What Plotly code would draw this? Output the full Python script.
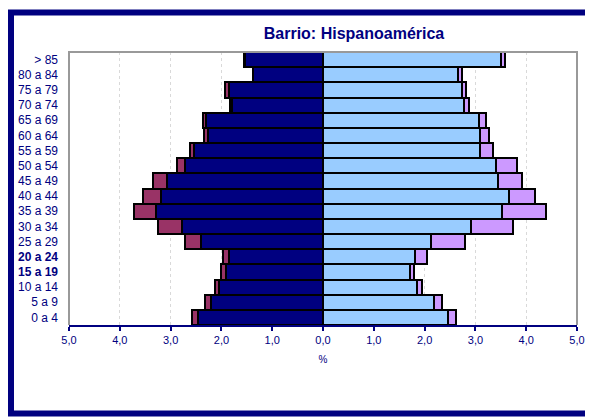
import plotly.graph_objects as go

# age groups, bottom to top
edades = ["0 a 4", "5 a 9", "10 a 14", "15 a 19", "20 a 24", "25 a 29", "30 a 34",
          "35 a 39", "40 a 44", "45 a 49", "50 a 54", "55 a 59", "60 a 64",
          "65 a 69", "70 a 74", "75 a 79", "80 a 84", "> 85"]

# men (% of population): nationals and foreigners
hombres_esp = [2.47, 2.20, 2.04, 1.90, 1.86, 2.40, 2.78, 3.29, 3.18, 3.07,
               2.71, 2.53, 2.26, 2.30, 1.79, 1.86, 1.37, 1.53]
hombres_ext = [0.11, 0.12, 0.08, 0.10, 0.10, 0.32, 0.47, 0.44, 0.36, 0.27,
               0.16, 0.09, 0.09, 0.07, 0.05, 0.06, 0.01, 0.02]

# women (% of population): nationals and foreigners
mujeres_esp = [2.47, 2.19, 1.86, 1.71, 1.82, 2.12, 2.91, 3.53, 3.66, 3.45,
               3.41, 3.10, 3.09, 3.07, 2.78, 2.74, 2.65, 3.51]
mujeres_ext = [0.14, 0.15, 0.09, 0.09, 0.23, 0.67, 0.83, 0.85, 0.52, 0.47,
               0.41, 0.25, 0.18, 0.13, 0.09, 0.08, 0.09, 0.08]

ticks = [-5, -4, -3, -2, -1, 0, 1, 2, 3, 4, 5]
tick_text = ["5,0", "4,0", "3,0", "2,0", "1,0", "0,0", "1,0", "2,0", "3,0", "4,0", "5,0"]

NAVY = "#000080"
FONT = "Liberation Sans, Arial, sans-serif"
borde = dict(color="black", width=2)

fig = go.Figure()
fig.add_trace(go.Bar(y=edades, x=[-v for v in hombres_esp], orientation="h",
                     marker=dict(color=NAVY, line=borde), name="Hombres"))
fig.add_trace(go.Bar(y=edades, x=[-v for v in hombres_ext], orientation="h",
                     marker=dict(color="#993366", line=borde), name="Hombres ext."))
fig.add_trace(go.Bar(y=edades, x=mujeres_esp, orientation="h",
                     marker=dict(color="#99CCFF", line=borde), name="Mujeres"))
fig.add_trace(go.Bar(y=edades, x=mujeres_ext, orientation="h",
                     marker=dict(color="#CC99FF", line=borde), name="Mujeres ext."))

# two labels are drawn bolder in the original
etiquetas = ["<b>%s</b>" % e if e in ("15 a 19", "20 a 24") else e for e in edades]

# the page body adds an 8px offset, so the figure is 8px smaller
FW, FH = 585, 409
W, H = 508.0, 273.0

fig.update_layout(
    width=FW, height=FH,
    barmode="relative", bargap=0,
    showlegend=False,
    plot_bgcolor="white", paper_bgcolor="white",
    margin=dict(l=61, r=16, t=44, b=92),
    font=dict(family=FONT, color=NAVY),
    title=dict(text="<b>Barrio: Hispanoamérica</b>", x=(354 - 69) / W,
               xanchor="center", xref="paper", y=1 - 25.0 / FH, yanchor="middle",
               font=dict(size=16, color=NAVY)),
    xaxis=dict(range=[-5, 5], tickvals=ticks, ticktext=tick_text, automargin=False,
               tickfont=dict(size=11, color=NAVY),
               showgrid=True, gridcolor="#d9d9d9", gridwidth=1, griddash="dot",
               zeroline=False, showline=True, linecolor=NAVY, linewidth=2,
               ticks="outside", ticklen=4, tickcolor=NAVY, tickwidth=2,
               title=dict(text="%", font=dict(size=10, color=NAVY), standoff=11)),
    yaxis=dict(tickvals=edades, ticktext=etiquetas, automargin=False,
               tickfont=dict(size=12, color=NAVY),
               showgrid=False, showline=False, ticks="", ticklabelstandoff=10),
)

# grey plot-area border (left, top, right)
fig.add_shape(type="path", xref="paper", yref="paper",
              path="M 0 0 L 0 1 L 1 1 L 1 0", line=dict(color="#999999", width=2))

# navy frame around the whole chart (positions in page pixels)
def px_x(p):
    return (p - 69) / W
def px_y(p):
    return (325 - p) / H
fig.add_shape(type="rect", xref="paper", yref="paper",
              x0=px_x(11), x1=px_x(605), y0=px_y(413.5), y1=px_y(12.5),
              line=dict(color=NAVY, width=6))

fig.write_html("out.html")
